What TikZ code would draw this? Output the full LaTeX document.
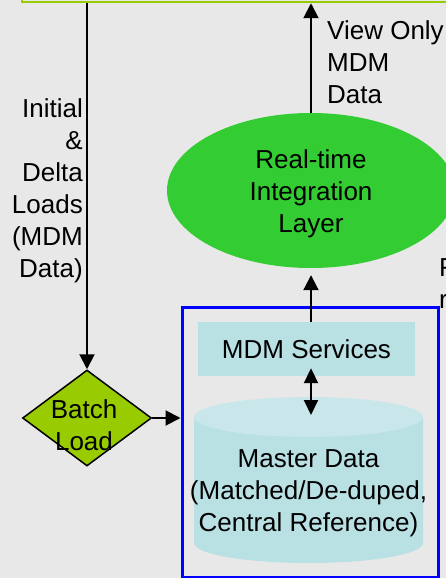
\documentclass[tikz,border=0pt]{standalone}
\usepackage{fontspec}
\setmainfont{Liberation Sans}
\usepackage{xcolor}
\usetikzlibrary{arrows.meta, positioning, shapes.geometric, calc}
\definecolor{bggray}{HTML}{E8E8E8}
\definecolor{limegreen}{HTML}{99CC00}
\definecolor{layergreen}{HTML}{33CC33}
\definecolor{svcblue}{HTML}{B9E0E3}
\definecolor{cyltop}{HTML}{C9E7EA}
\newcommand{\bigfont}{\fontsize{26}{32}\selectfont}

\begin{document}
\begin{tikzpicture}[x=1pt, y=1pt,
    every node/.style={font=\bigfont, inner sep=0pt},
    arr/.style={-{Triangle[width=15pt,length=15pt]}, line width=2pt},
    dblarr/.style={{Triangle[width=14pt,length=15pt]}-{Triangle[width=14pt,length=15pt]}, line width=2pt},
    lbl/.style={align=left, anchor=west},
]
    % Background
    \fill[bggray] (0,0) rectangle (446,-578);
    \useasboundingbox (0,0) rectangle (446,-578);

    % Nodes
    \node (sys) at (251,29) [draw=limegreen, line width=2.5pt, minimum width=458, minimum height=62] {};

    \node (rt) at (311,-190.5) [ellipse, fill=layergreen, minimum width=288, minimum height=155] {};
    \node (rttxt) at (311,-194) [align=center] {Real-time\\Integration\\Layer};

    \node (hub) at (310,-442) [draw=blue, line width=3pt, minimum width=256, minimum height=270] {};

    \node (svc) at (306.5,-349) [fill=svcblue, minimum width=217, minimum height=54] {MDM Services};

    % cylinder for the master data store
    \fill[svcblue] (194,-417) -- (194,-543) arc[start angle=180, end angle=360, x radius=114.5, y radius=20] -- (423,-417) -- cycle;
    \fill[cyltop] (308.5,-417) ellipse [x radius=114.5, y radius=20];
    \coordinate (dbin) at (311,-415);
    \node (db) at (308.5,-493.5) [align=center] {Master Data\\(Matched/De-duped,\\Central Reference)};

    \node (batch) at (87,-418) [diamond, draw, line width=1.5pt, fill=limegreen, minimum width=129, minimum height=96, aspect=1.34] {};
    \node (batchtxt) at (84,-425.5) [align=center] {Batch\\Load};

    \node (loads) at (83,-191) [align=right, anchor=east] {Initial\\\&\\Delta\\Loads\\(MDM\\Data)};
    \node (view) at (327,-62) [lbl] {View Only\\MDM\\Data};
    \node (cut) at (439,-284) [lbl] {F\\r};

    % Edges
    \draw[arr] (batch.north |- sys.south) -- (batch.north);
    \draw[arr] (batch.east) -- (batch.east -| hub.west);
    \draw[arr] (svc.north -| rt.south) -- ([yshift=-7]rt.south);
    \draw[arr] (rt.north) -- (rt.north |- sys.south);
    \draw[dblarr] ([yshift=8]svc.south -| dbin) -- (dbin);
\end{tikzpicture}
\end{document}
